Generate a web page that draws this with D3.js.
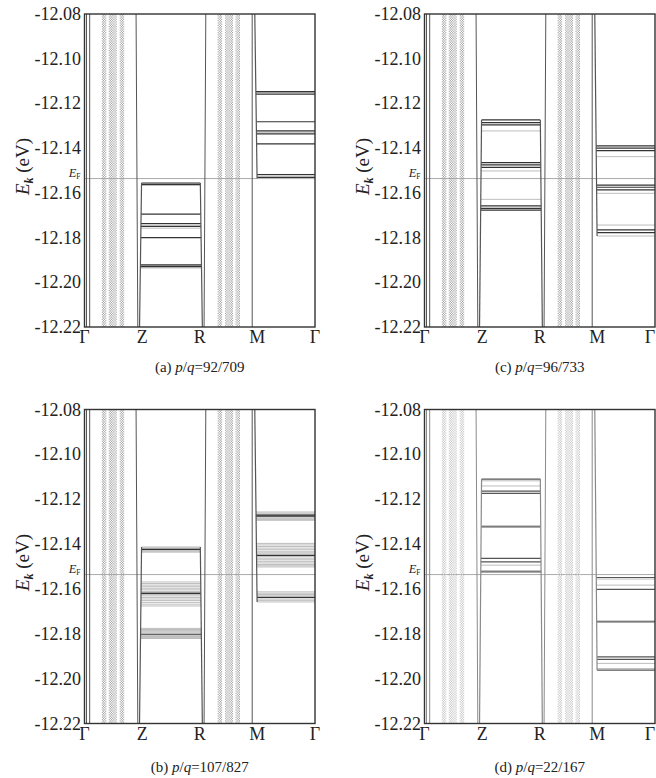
<!DOCTYPE html>
<html><head><meta charset="utf-8">
<script src="https://cdn.jsdelivr.net/npm/d3@7"></script>
<style>
body{margin:0;background:#fff}
svg text{font-family:"Liberation Serif","DejaVu Serif","Times New Roman",serif;fill:#222}
</style>
</head><body>
<svg id="chart" width="656" height="778" font-family="Liberation Serif, DejaVu Serif, serif"></svg>
<script>
// ---------- data ----------
const kLabels = ["Γ","Z","R","M","Γ"];
const kTicks = [0,1,2,3,4];
const yTicks = [-12.08,-12.10,-12.12,-12.14,-12.16,-12.18,-12.20,-12.22];
const yDomain = [-12.22,-12.08];
const eFermi = -12.1536;

const panelIds = ["a","c","b","d"];
const panelPQ = ["92/709","96/733","107/827","22/167"];

// steep bands (k at top of window, k at bottom of window)
const gzSolid = [[0.035,0.035],[0.09,0.09],[0.895,0.925]];
const gzDotted = [0.31,0.33,0.35,0.37, 0.43,0.45,0.47,0.49,0.51,0.53,0.55, 0.62,0.64,0.66,0.68];
const rmSolid = [[2.105,2.075],[2.91,2.91]];
const rmDotted = [2.32,2.34,2.36,2.38, 2.45,2.47,2.49,2.51,2.53,2.55,2.57, 2.63,2.65,2.67,2.69];
// edges of flat-band regions: [k at band end, k at window end]
const zEdge = [0.99,0.955];
const rEdge = [2.01,2.045];
const mEdge = [2.995,2.955];

// flat bands, Z-R segment
const zrDarkA = [-12.1556,-12.1562,-12.1695,-12.1737,-12.1750,-12.1800,-12.1922,-12.1930];
const zrLightA = [-12.1567,-12.1743,-12.1758,-12.1926,-12.1936];
const zrDarkC = [-12.1274,-12.1286,-12.1296,-12.1465,-12.1475,-12.1486,-12.1658,-12.1669,-12.1677];
const zrLightC = [-12.1323,-12.1502,-12.1629];
const zrDarkB = [-12.1424,-12.1620,-12.1802];
const zrLightB = [-12.1413,-12.1417,-12.1421,-12.1428,-12.1432,-12.1436,
  -12.1569,-12.1576,-12.1583,-12.1590,-12.1597,-12.1604,-12.1611,-12.1616,-12.1625,-12.1631,-12.1638,-12.1645,-12.1652,-12.1660,-12.1668,-12.1676,
  -12.1776,-12.1781,-12.1786,-12.1791,-12.1796,-12.1807,-12.1812,-12.1817,-12.1821];
const zrDarkD = [-12.1110,-12.1164,-12.1174,-12.1323,-12.1464,-12.1479,-12.1524];
const zrLightD = [-12.1118,-12.1141,-12.1318,-12.1494,-12.1518];

// flat bands, M-Γ segment
const mgDarkA = [-12.1147,-12.1158,-12.1282,-12.1323,-12.1336,-12.1381,-12.1518,-12.1531];
const mgLightA = [-12.1151,-12.1329,-12.1524,-12.1536];
const mgDarkC = [-12.1390,-12.1400,-12.1411,-12.1565,-12.1575,-12.1587,-12.1766,-12.1778];
const mgLightC = [-12.1438,-12.1602,-12.1744,-12.1793];
const mgDarkB = [-12.1271,-12.1275,-12.1450,-12.1638];
const mgLightB = [-12.1257,-12.1262,-12.1267,-12.1280,-12.1285,-12.1290,-12.1294,
  -12.1397,-12.1404,-12.1411,-12.1418,-12.1425,-12.1432,-12.1439,-12.1444,-12.1456,-12.1463,-12.1470,-12.1477,-12.1484,-12.1491,-12.1497,-12.1502,
  -12.1613,-12.1619,-12.1625,-12.1631,-12.1645,-12.1651,-12.1658];
const mgDarkD = [-12.1549,-12.1602,-12.1747,-12.1903,-12.1914,-12.1962];
const mgLightD = [-12.1556,-12.1583,-12.1742,-12.1932,-12.1955];

const zrDark = [zrDarkA,zrDarkC,zrDarkB,zrDarkD];
const zrLight = [zrLightA,zrLightC,zrLightB,zrLightD];
const mgDark = [mgDarkA,mgDarkC,mgDarkB,mgDarkD];
const mgLight = [mgLightA,mgLightC,mgLightB,mgLightD];

// ---------- layout ----------
const panels = [
  {left:84.5, top:14, w:230.5, h:313, capDy:44.5, faint:false},
  {left:424.5, top:14, w:230.5, h:313, capDy:44.5, faint:false},
  {left:84.5, top:409.5, w:230.5, h:314, capDy:48, faint:false},
  {left:424.5, top:409.5, w:230.5, h:314, capDy:48, faint:true}
];
const FONT = "Liberation Serif, DejaVu Serif, serif";

const svg = d3.select("#chart");
const defs = svg.append("defs");

panels.forEach((p,i)=>{
  const x = d3.scaleLinear().domain([0,4]).range([p.left,p.left+p.w]);
  const y = d3.scaleLinear().domain(yDomain).range([p.top+p.h,p.top]);
  const g = svg.append("g").attr("font-family",FONT);
  defs.append("clipPath").attr("id","clip"+i).append("rect")
    .attr("x",p.left).attr("y",p.top).attr("width",p.w).attr("height",p.h);
  const plot = g.append("g").attr("clip-path",`url(#clip${i})`);

  const solidCol = p.faint ? "#8a8a8a" : "#555";
  const dotCol = p.faint ? "#c4c4c4" : "#a0a0a0";
  const darkCol = p.faint ? "#555" : "#333";

  // E_F line
  plot.append("line").attr("x1",x(0)).attr("x2",x(4))
    .attr("y1",y(eFermi)).attr("y2",y(eFermi))
    .attr("stroke","#aaa").attr("stroke-width",1);

  // dotted steep band groups
  plot.selectAll(".dot").data(gzDotted.concat(rmDotted)).join("line")
    .attr("x1",d=>x(d)).attr("x2",d=>x(d))
    .attr("y1",y(yDomain[1])).attr("y2",y(yDomain[0]))
    .attr("stroke",dotCol).attr("stroke-width",1)
    .attr("stroke-dasharray","1.2,1.2")
    .attr("stroke-dashoffset",(d,j)=>j%2 ? 1.2 : 0);

  // solid steep bands
  plot.selectAll(".sol").data(gzSolid.concat(rmSolid)).join("line")
    .attr("x1",d=>x(d[0])).attr("x2",d=>x(d[1]))
    .attr("y1",y(yDomain[1])).attr("y2",y(yDomain[0]))
    .attr("stroke",solidCol).attr("stroke-width",1);

  // Z-R flat bands
  const zrAll = zrDark[i].concat(zrLight[i]);
  const eTop = d3.max(zrAll);
  const kz = d3.scaleLinear().domain([eTop,yDomain[0]]).range(zEdge);
  const kr = d3.scaleLinear().domain([eTop,yDomain[0]]).range(rEdge);
  plot.selectAll(".zrl").data(zrLight[i]).join("line")
    .attr("x1",d=>x(kz(d))).attr("x2",d=>x(kr(d)))
    .attr("y1",d=>y(d)).attr("y2",d=>y(d))
    .attr("stroke","#bdbdbd").attr("stroke-width",1);
  plot.selectAll(".zrd").data(zrDark[i]).join("line")
    .attr("x1",d=>x(kz(d))).attr("x2",d=>x(kr(d)))
    .attr("y1",d=>y(d)).attr("y2",d=>y(d))
    .attr("stroke",darkCol).attr("stroke-width",1.2);
  [zEdge,rEdge].forEach(ed=>{
    plot.append("line").attr("x1",x(ed[0])).attr("x2",x(ed[1]))
      .attr("y1",y(eTop)).attr("y2",y(yDomain[0]))
      .attr("stroke",solidCol).attr("stroke-width",1.2);
  });

  // M-Γ flat bands
  const mgAll = mgDark[i].concat(mgLight[i]);
  const eBot = d3.min(mgAll);
  const km = d3.scaleLinear().domain([eBot,yDomain[1]]).range(mEdge);
  plot.selectAll(".mgl").data(mgLight[i]).join("line")
    .attr("x1",d=>x(km(d))).attr("x2",x(4))
    .attr("y1",d=>y(d)).attr("y2",d=>y(d))
    .attr("stroke","#bdbdbd").attr("stroke-width",1);
  plot.selectAll(".mgd").data(mgDark[i]).join("line")
    .attr("x1",d=>x(km(d))).attr("x2",x(4))
    .attr("y1",d=>y(d)).attr("y2",d=>y(d))
    .attr("stroke",darkCol).attr("stroke-width",1.2);
  plot.append("line").attr("x1",x(mEdge[0])).attr("x2",x(mEdge[1]))
    .attr("y1",y(eBot)).attr("y2",y(yDomain[1]))
    .attr("stroke",solidCol).attr("stroke-width",1.2);

  // frame
  g.append("rect").attr("x",p.left).attr("y",p.top).attr("width",p.w).attr("height",p.h)
    .attr("fill","none").attr("stroke","#333").attr("stroke-width",1.4);

  // y tick labels
  g.selectAll(".yt").data(yTicks).join("text")
    .attr("x",p.left-3.5).attr("y",d=>y(d)+6)
    .attr("text-anchor","end").attr("font-size",18)
    .text(d=>d3.format(".2f")(d).replace("−","-"));

  // x tick labels (keep last one inside the page)
  g.selectAll(".xt").data(kTicks).join("text")
    .attr("x",d=>Math.min(x(d), 650))
    .attr("y",p.top+p.h+16)
    .attr("text-anchor","middle").attr("font-size",18)
    .text((d,j)=>kLabels[j]);

  // y axis title
  const yt = g.append("text")
    .attr("transform",`translate(${p.left-56},${p.top+p.h/2-4}) rotate(-90)`)
    .attr("text-anchor","middle").attr("font-size",19);
  yt.append("tspan").attr("font-style","italic").text("E");
  yt.append("tspan").attr("font-style","italic").attr("font-weight","bold")
    .attr("font-size",12).attr("dy",4).text("k");
  yt.append("tspan").attr("dy",-4).text(" (eV)");

  // E_F label
  const ef = g.append("text").attr("x",p.left-4).attr("y",y(eFermi)-1.5)
    .attr("text-anchor","end").attr("font-size",12.5);
  ef.append("tspan").attr("font-style","italic").text("E");
  ef.append("tspan").attr("font-size",7.5).attr("dy",1.5).text("F");

  // caption
  const cap = g.append("text").attr("x",p.left+p.w/2).attr("y",p.top+p.h+p.capDy)
    .attr("text-anchor","middle").attr("font-size",15);
  cap.append("tspan").text(`(${panelIds[i]}) `);
  cap.append("tspan").attr("font-style","italic").text("p");
  cap.append("tspan").text("/");
  cap.append("tspan").attr("font-style","italic").text("q");
  cap.append("tspan").text("=" + panelPQ[i]);
});
</script>
</body></html>
